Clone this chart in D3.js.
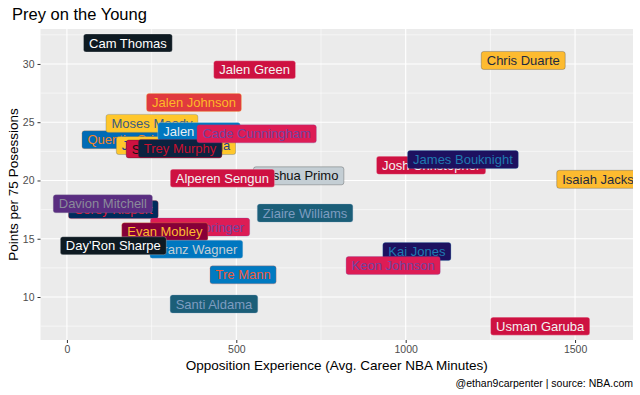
<!DOCTYPE html>
<html>
<head>
<meta charset="utf-8">
<script src="https://cdn.jsdelivr.net/npm/d3@7"></script>
<style>
  body { margin: 0; background: #fff; }
  svg { font-family: "Liberation Sans", Arial, sans-serif; }
</style>
</head>
<body>
<svg width="640" height="395"></svg>
<script>
// drawing order = ggplot data order (later labels sit on top)
const players = [
  "Quentin Grimes", "Moses Moody", "Jonathan Kuminga", "Scottie Barnes", "Jalen Suggs",
  "Trey Murphy", "Cade Cunningham", "Jalen Johnson", "Jalen Green", "Cam Thomas",
  "Chris Duarte", "Joshua Primo", "Alperen Sengun", "Josh Christopher", "James Bouknight",
  "Isaiah Jackson", "Corey Kispert", "Davion Mitchell", "Ziaire Williams", "Jaden Springer",
  "Evan Mobley", "Franz Wagner", "Day'Ron Sharpe", "Kai Jones", "Keon Johnson",
  "Tre Mann", "Santi Aldama", "Usman Garuba"
];
const oppMinutes = [
  195, 251, 322, 316, 390,
  334, 560, 375, 554, 180,
  1347, 684, 459, 1075, 1169,
  1589, 137, 106, 703, 393,
  289, 382, 137, 1033, 963,
  520, 434, 1397
];
const pts75 = [
  23.5, 24.9, 23.0, 22.7, 24.2,
  22.75, 24.0, 26.7, 29.5, 31.8,
  30.3, 20.4, 20.2, 21.3, 21.8,
  20.1, 17.5, 18.0, 17.2, 16.0,
  15.6, 14.1, 14.4, 13.9, 12.7,
  11.9, 9.4, 7.5
];
const fillColors = [
  "#006BB6", "#FFC72C", "#FFC72C", "#CE1141", "#0077C0",
  "#0C2340", "#DD1C55", "#E03A3E", "#CE1141", "#0E1A22",
  "#FDBB30", "#C4CED4", "#CE1141", "#CE1141", "#1D1160",
  "#FDBB30", "#002B5C", "#5A2D81", "#1B5E78", "#DD1C55",
  "#860038", "#0077C0", "#0E1A22", "#1D1160", "#DD1C55",
  "#007AC1", "#1B5E78", "#CE1141"
];
const textColors = [
  "#F58426", "#3B5B80", "#1D428A", "#111111", "#E8EEF2",
  "#C8102E", "#7045A0", "#FDB927", "#F2F2F2", "#FFFFFF",
  "#1E2A40", "#111111", "#F2F2F2", "#F2F2F2", "#1F7AB0",
  "#1E2A40", "#E31837", "#8A8A9A", "#7D9CC0", "#7045A0",
  "#FDBB30", "#C4CED4", "#FFFFFF", "#1F7AB0", "#7045A0",
  "#EF5B3A", "#7D9CC0", "#F2F2F2"
];
const xTicks = [0, 500, 1000, 1500];
const yTicks = [10, 15, 20, 25, 30];

const svg = d3.select("svg");
const panel = { left: 40.5, right: 633, top: 29, bottom: 340 };

const x = d3.scaleLinear().domain([-78, 1671]).range([panel.left, panel.right]);
const y = d3.scaleLinear().domain([6.31, 33.0]).range([panel.bottom, panel.top]);

svg.append("rect")
  .attr("x", panel.left).attr("y", panel.top)
  .attr("width", panel.right - panel.left).attr("height", panel.bottom - panel.top)
  .attr("fill", "#EBEBEB");

// minor grid
const xMinor = [-250, 250, 750, 1250].filter(v => x(v) > panel.left);
const yMinor = [7.5, 12.5, 17.5, 22.5, 27.5, 32.5];
svg.append("g").selectAll("line").data(xMinor).join("line")
  .attr("x1", d => x(d)).attr("x2", d => x(d))
  .attr("y1", panel.top).attr("y2", panel.bottom)
  .attr("stroke", "#fff").attr("stroke-width", 0.55);
svg.append("g").selectAll("line").data(yMinor).join("line")
  .attr("x1", panel.left).attr("x2", panel.right)
  .attr("y1", d => y(d)).attr("y2", d => y(d))
  .attr("stroke", "#fff").attr("stroke-width", 0.55);

// major grid
svg.append("g").selectAll("line").data(xTicks).join("line")
  .attr("x1", d => x(d)).attr("x2", d => x(d))
  .attr("y1", panel.top).attr("y2", panel.bottom)
  .attr("stroke", "#fff").attr("stroke-width", 1.1);
svg.append("g").selectAll("line").data(yTicks).join("line")
  .attr("x1", panel.left).attr("x2", panel.right)
  .attr("y1", d => y(d)).attr("y2", d => y(d))
  .attr("stroke", "#fff").attr("stroke-width", 1.1);

// axes
const xAxis = svg.append("g")
  .attr("transform", `translate(0,${panel.bottom})`)
  .call(d3.axisBottom(x).tickValues(xTicks).tickFormat(d3.format("d")).tickSize(3).tickPadding(3));
const yAxis = svg.append("g")
  .attr("transform", `translate(${panel.left},0)`)
  .call(d3.axisLeft(y).tickValues(yTicks).tickSize(3).tickPadding(3));
[xAxis, yAxis].forEach(a => {
  a.select(".domain").remove();
  a.selectAll(".tick line").attr("stroke", "#333").attr("stroke-width", 1);
  a.selectAll(".tick text").attr("fill", "#4D4D4D")
    .style("font-size", "10.5px").style("font-family", "Liberation Sans, Arial, sans-serif");
});

// labels
svg.append("clipPath").attr("id", "panelClip")
  .append("rect")
  .attr("x", panel.left).attr("y", panel.top)
  .attr("width", panel.right - panel.left).attr("height", panel.bottom - panel.top);

const labelsG = svg.append("g").attr("clip-path", "url(#panelClip)");
const fontSize = 13;
const padX = 5.5, boxH = 18;

players.forEach((name, i) => {
  const g = labelsG.append("g")
    .attr("transform", `translate(${x(oppMinutes[i])},${y(pts75[i])})`);
  const rect = g.append("rect");
  const t = g.append("text")
    .attr("text-anchor", "middle")
    .attr("y", 4.6)
    .attr("fill", textColors[i])
    .style("font-size", fontSize + "px")
    .text(name);
  const w = t.node().getComputedTextLength() + padX * 2;
  rect.attr("x", -w / 2).attr("y", -boxH / 2)
    .attr("width", w).attr("height", boxH)
    .attr("rx", 2.5)
    .attr("fill", fillColors[i])
    .attr("stroke", textColors[i])
    .attr("stroke-opacity", 0.45)
    .attr("stroke-width", 0.6);
});

// titles
svg.append("text")
  .attr("x", 12).attr("y", 20)
  .attr("fill", "#000")
  .style("font-size", "16.5px")
  .text("Prey on the Young");

svg.append("text")
  .attr("x", (panel.left + panel.right) / 2).attr("y", 370)
  .attr("text-anchor", "middle")
  .style("font-size", "13.5px")
  .text("Opposition Experience (Avg. Career NBA Minutes)");

svg.append("text")
  .attr("transform", `translate(18,${(panel.top + panel.bottom) / 2}) rotate(-90)`)
  .attr("text-anchor", "middle")
  .style("font-size", "13.5px")
  .text("Points per 75 Posessions");

svg.append("text")
  .attr("x", 633).attr("y", 387)
  .attr("text-anchor", "end")
  .style("font-size", "10.5px")
  .text("@ethan9carpenter | source: NBA.com");
</script>
</body>
</html>
